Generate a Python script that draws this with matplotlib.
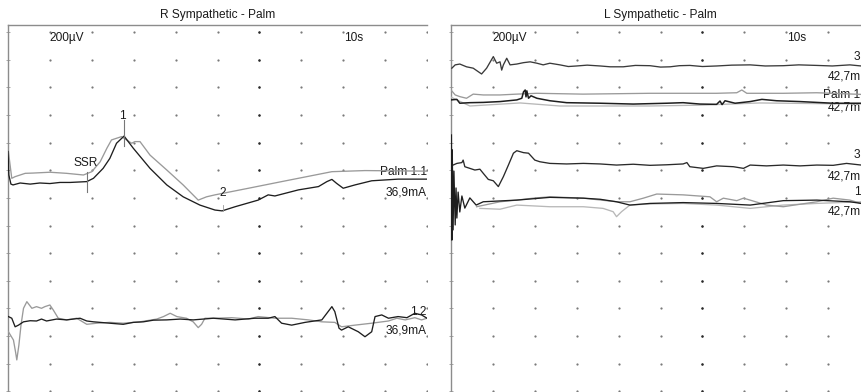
import numpy as np
import matplotlib.pyplot as plt

plt.rcParams['font.family'] = ['Liberation Sans', 'DejaVu Sans']

# time in s (1 div = 1 s, 10 s sweep), amplitude as vertical position in divisions (200 uV/div, downward)
# ---- R Sympathetic - Palm ----
r11_black_t = [0.0, 0.02, 0.07, 0.12, 0.29, 0.53, 0.76, 1.00, 1.24, 1.48, 1.88, 2.04, 2.27, 2.43, 2.59,
               2.77, 2.99, 3.39, 3.79, 4.18, 4.58, 4.94, 5.11, 5.42, 5.97, 6.21, 6.37, 6.93, 7.41, 7.61,
               7.73, 7.84, 8.00, 8.28, 8.68, 9.31, 10.0]
r11_black_y = [4.32, 5.17, 5.50, 5.53, 5.46, 5.50, 5.46, 5.48, 5.44, 5.44, 5.41, 5.29, 4.93, 4.57, 4.02,
               3.76, 4.20, 4.93, 5.53, 5.96, 6.26, 6.44, 6.47, 6.32, 6.08, 5.89, 5.93, 5.71, 5.59, 5.41,
               5.33, 5.47, 5.65, 5.53, 5.38, 5.32, 5.32]
r11_gray_t = [0.01, 0.09, 0.17, 0.29, 0.41, 0.60, 1.00, 1.40, 1.80, 2.00, 2.20, 2.36, 2.47, 2.59, 2.71,
              2.83, 2.95, 3.03, 3.15, 3.39, 3.79, 4.18, 4.54, 4.74, 4.94, 5.74, 6.53, 7.33, 7.73, 8.52, 10.0]
r11_gray_y = [4.33, 5.29, 5.23, 5.17, 5.11, 5.10, 5.07, 5.11, 5.17, 5.05, 4.69, 4.20, 3.90, 3.84, 3.78,
              3.90, 4.02, 3.96, 3.96, 4.45, 4.99, 5.53, 6.08, 5.96, 5.89, 5.65, 5.41, 5.17, 5.05, 5.01, 5.03]

r12_black_t = [0.01, 0.09, 0.17, 0.25, 0.37, 0.53, 0.68, 0.80, 0.92, 1.16, 1.40, 1.72, 1.88, 2.04, 2.20,
               2.43, 2.75, 2.99, 3.23, 3.47, 3.79, 4.11, 4.42, 4.66, 4.90, 5.42, 5.89, 6.21, 6.37, 6.53,
               6.77, 7.09, 7.49, 7.61, 7.73, 7.80, 7.90, 7.96, 8.12, 8.36, 8.52, 8.68, 8.76, 8.92, 9.08,
               9.31, 9.52, 9.71, 9.87, 10.0]
r12_black_y = [10.30, 10.36, 10.67, 10.61, 10.49, 10.45, 10.46, 10.39, 10.46, 10.39, 10.42, 10.36, 10.46,
               10.49, 10.51, 10.54, 10.58, 10.51, 10.49, 10.43, 10.42, 10.39, 10.42, 10.39, 10.36, 10.42,
               10.36, 10.36, 10.30, 10.54, 10.61, 10.51, 10.42, 10.18, 9.94, 10.12, 10.72, 10.79, 10.67,
               10.85, 11.03, 10.85, 10.30, 10.24, 10.36, 10.30, 10.34, 10.18, 10.24, 10.36]
r12_gray_t = [0.01, 0.13, 0.18, 0.21, 0.26, 0.31, 0.37, 0.45, 0.57, 0.68, 0.80, 0.88, 1.00, 1.08, 1.20,
              1.40, 1.64, 1.88, 2.12, 2.43, 2.75, 3.15, 3.55, 3.71, 3.87, 4.03, 4.26, 4.42, 4.54, 4.62,
              4.70, 4.94, 5.34, 5.74, 5.97, 6.37, 6.77, 7.17, 7.49, 7.80, 7.96, 8.28, 8.68, 9.08, 9.28,
              9.48, 9.71, 9.87, 10.0]
r12_gray_y = [10.85, 11.15, 11.58, 11.87, 11.33, 10.61, 10.00, 9.76, 10.00, 9.94, 10.00, 9.94, 9.88,
              10.06, 10.36, 10.42, 10.36, 10.58, 10.54, 10.51, 10.54, 10.49, 10.39, 10.30, 10.18, 10.30,
              10.36, 10.49, 10.70, 10.58, 10.36, 10.36, 10.34, 10.39, 10.30, 10.36, 10.36, 10.42, 10.49,
              10.51, 10.67, 10.61, 10.54, 10.46, 10.36, 10.42, 10.34, 10.42, 10.36]

# ---- L Sympathetic - Palm ----
l3a_t = [0.02, 0.10, 0.21, 0.37, 0.53, 0.73, 0.85, 1.01, 1.09, 1.17, 1.21, 1.25, 1.33, 1.41, 1.57, 1.73,
         1.89, 2.05, 2.20, 2.36, 2.60, 2.80, 3.00, 3.25, 3.56, 3.80, 4.11, 4.40, 4.75, 5.00, 5.23, 5.45,
         5.70, 6.00, 6.34, 6.70, 7.14, 7.50, 7.93, 8.30, 8.73, 9.10, 9.52, 9.79]
l3a_y = [1.30, 1.18, 1.15, 1.25, 1.30, 1.51, 1.30, 0.88, 1.12, 1.07, 1.37, 1.18, 0.94, 1.18, 1.15, 1.10,
         1.07, 1.12, 1.18, 1.12, 1.18, 1.24, 1.22, 1.19, 1.22, 1.25, 1.25, 1.20, 1.21, 1.26, 1.25, 1.21,
         1.20, 1.24, 1.22, 1.19, 1.18, 1.22, 1.21, 1.18, 1.20, 1.22, 1.18, 1.22]
l1a_gray_t = [0.0, 0.10, 0.21, 0.37, 0.53, 0.77, 1.17, 1.57, 2.05, 3.15, 4.75, 6.34, 6.82, 6.94, 7.06,
              7.93, 8.73, 9.79]
l1a_gray_y = [2.09, 2.27, 2.33, 2.39, 2.24, 2.27, 2.27, 2.24, 2.21, 2.24, 2.21, 2.21, 2.19, 2.09, 2.21,
              2.21, 2.19, 2.25]
l1a_black_t = [0.0, 0.14, 0.21, 0.45, 0.77, 1.17, 1.57, 1.69, 1.73, 1.77, 1.79, 1.81, 1.85, 1.91, 2.05,
               2.36, 2.76, 3.56, 4.35, 5.15, 5.54, 5.94, 6.34, 6.42, 6.47, 6.54, 6.78, 7.14, 7.42, 7.77,
               8.33, 9.12, 9.79]
l1a_black_y = [2.45, 2.43, 2.57, 2.55, 2.54, 2.51, 2.45, 2.39, 2.16, 2.09, 2.34, 2.12, 2.39, 2.30, 2.39,
               2.48, 2.55, 2.57, 2.60, 2.57, 2.55, 2.60, 2.61, 2.49, 2.62, 2.48, 2.57, 2.51, 2.43, 2.48,
               2.51, 2.57, 2.57]
l1a_light_t = [0.0, 0.45, 1.65, 2.60, 4.75, 5.94, 7.37, 9.79]
l1a_light_y = [2.35, 2.67, 2.56, 2.67, 2.67, 2.64, 2.56, 2.60]

l3b_t = [0.05, 0.14, 0.26, 0.29, 0.33, 0.45, 0.57, 0.69, 0.77, 0.89, 1.01, 1.13, 1.25, 1.37, 1.49, 1.57,
         1.73, 1.85, 2.00, 2.12, 2.36, 2.76, 3.16, 3.56, 3.95, 4.35, 4.75, 5.15, 5.54, 5.63, 5.70, 6.02,
         6.34, 6.74, 6.98, 7.14, 7.53, 7.93, 8.33, 8.73, 9.12, 9.44, 9.79]
l3b_y = [4.81, 4.75, 4.72, 4.63, 4.87, 4.93, 4.99, 4.96, 5.11, 5.33, 5.38, 5.59, 5.23, 4.81, 4.38, 4.29,
         4.36, 4.38, 4.63, 4.69, 4.75, 4.77, 4.75, 4.77, 4.81, 4.78, 4.82, 4.80, 4.77, 4.72, 4.87, 4.93,
         4.84, 4.87, 4.93, 4.81, 4.84, 4.81, 4.84, 4.81, 4.82, 4.75, 4.81]
l1b_black_t = [0.01, 0.02, 0.03, 0.05, 0.07, 0.10, 0.12, 0.14, 0.17, 0.21, 0.26, 0.33, 0.45, 0.60, 0.77,
               1.57, 2.36, 3.16, 3.56, 3.95, 4.27, 4.75, 5.54, 6.34, 7.14, 7.93, 8.73, 9.52, 9.79]
l1b_black_y = [3.72, 7.53, 4.26, 7.16, 5.03, 6.98, 5.64, 6.73, 5.79, 6.51, 5.93, 6.37, 6.00, 6.26, 6.14,
               6.08, 5.98, 6.01, 6.05, 6.14, 6.26, 6.20, 6.17, 6.20, 6.26, 6.10, 6.08, 6.14, 6.20]
l1b_gray_t = [0.61, 1.17, 1.57, 1.96, 2.36, 3.16, 3.95, 4.27, 4.59, 4.91, 5.54, 6.18, 6.34, 6.50, 6.82,
              6.98, 7.14, 7.53, 7.93, 8.73, 9.12, 9.52, 9.79]
l1b_gray_y = [6.32, 6.14, 6.08, 6.01, 5.96, 6.01, 6.14, 6.14, 6.01, 5.86, 5.89, 5.96, 6.14, 6.01, 6.10,
              6.01, 6.08, 6.26, 6.32, 6.14, 6.01, 6.08, 6.20]
l1b_light_t = [0.69, 1.17, 1.57, 2.36, 3.16, 3.63, 3.87, 3.95, 4.07, 4.27, 4.75, 5.54, 6.34, 6.74, 7.14,
               7.53, 7.93, 8.73, 9.79]
l1b_light_y = [6.38, 6.41, 6.26, 6.32, 6.32, 6.38, 6.50, 6.68, 6.50, 6.26, 6.22, 6.20, 6.26, 6.32, 6.38,
               6.32, 6.26, 6.20, 6.14]

# channel labels as they show at the right edge (the right panel is cut off by the image)
right_label_y = [0.89, 1.61, 2.27, 2.74, 4.45, 5.23, 5.78, 6.50]
right_labels = ['3', '42,7m', 'Palm 1', '42,7m', '3', '42,7m', '1', '42,7m']

BLACK = '#1e1e1e'
GRAY = '#9a9a9a'
LIGHT = '#b8b8b8'
TXT = '#1a1a1a'
FS = 8.6

fig = plt.figure(figsize=(8.61, 3.92), dpi=100)
W, H = 861, 392
div_px = 41.9
ax_l = fig.add_axes([8 / W, 0, 10 * div_px / W, (H - 25) / H])
ax_r = fig.add_axes([451 / W, 0, (W - 451) / W, (H - 25) / H])

y_top = (25 - 32.3) / 27.6
y_bot = (392 - 32.3) / 27.6


def setup(ax, xmax, title):
    ax.set_xlim(0, xmax)
    ax.set_ylim(y_bot, y_top)
    for s in ['right', 'bottom']:
        ax.spines[s].set_visible(False)
    for s in ['left', 'top']:
        ax.spines[s].set_color('#8c8c8c')
        ax.spines[s].set_linewidth(1.0)
    ax.set_xticks([])
    ax.set_yticks(np.arange(0, 14))
    ax.tick_params(axis='y', direction='inout', length=3, width=0.6, color='#999999', labelleft=False)
    cols = np.arange(1, 11)
    rows = np.arange(0, 14)
    gx, gy = np.meshgrid(cols, rows)
    ax.scatter(gx.ravel(), gy.ravel(), s=2.6, color='#7a7a7a', linewidths=0, zorder=1)
    ax.scatter(np.full(rows.size, 6), rows, s=3.0, color='#2a2a2a', linewidths=0, zorder=1)
    ax.text(5, y_top - 0.14, title, ha='center', va='bottom', fontsize=FS, color=TXT, clip_on=False)
    ax.text(1, -0.02, '200µV', ha='left', va='top', fontsize=FS, color=TXT)
    ax.text(8.02, -0.02, '10s', ha='left', va='top', fontsize=FS, color=TXT)


setup(ax_l, 10, 'R Sympathetic - Palm')
setup(ax_r, (W - 451) / div_px, 'L Sympathetic - Palm')

lw = 0.95
# left panel traces
ax_l.plot(r11_gray_t, r11_gray_y, color=GRAY, lw=lw, zorder=3)
ax_l.plot(r11_black_t, r11_black_y, color=BLACK, lw=lw, zorder=4)
ax_l.plot(r12_gray_t, r12_gray_y, color=GRAY, lw=lw, zorder=3)
ax_l.plot(r12_black_t, r12_black_y, color=BLACK, lw=lw, zorder=4)

# markers
ax_l.plot([1.88, 1.88], [5.05, 5.78], color='#777777', lw=0.8, zorder=5)
ax_l.text(1.85, 4.75, 'SSR', ha='center', va='center', fontsize=FS, color=TXT, zorder=6)
ax_l.plot([2.77, 2.77], [3.18, 4.12], color='#777777', lw=0.8, zorder=5)
ax_l.text(2.74, 3.04, '1', ha='center', va='center', fontsize=FS, color=TXT, zorder=6)
ax_l.plot([5.12, 5.12], [6.26, 6.47], color='#999999', lw=0.6, zorder=5)
ax_l.text(5.12, 5.83, '2', ha='center', va='center', fontsize=FS, color=TXT, zorder=6)

ax_l.text(10, 5.05, 'Palm 1.1', ha='right', va='center', fontsize=FS, color=TXT, zorder=2)
ax_l.text(10, 5.82, '36,9mA', ha='right', va='center', fontsize=FS, color=TXT, zorder=2)
ax_l.text(10, 10.12, '1.2', ha='right', va='center', fontsize=FS, color=TXT, zorder=2)
ax_l.text(10, 10.82, '36,9mA', ha='right', va='center', fontsize=FS, color=TXT, zorder=2)

# right panel traces
ax_r.plot(l3a_t, l3a_y, color='#3a3a3a', lw=lw, zorder=4)
ax_r.plot(l1a_light_t, l1a_light_y, color=LIGHT, lw=lw, zorder=3)
ax_r.plot(l1a_gray_t, l1a_gray_y, color=GRAY, lw=lw, zorder=3)
ax_r.plot(l1a_black_t, l1a_black_y, color=BLACK, lw=1.1, zorder=4)
ax_r.plot(l3b_t, l3b_y, color='#2a2a2a', lw=lw, zorder=4)
ax_r.plot(l1b_light_t, l1b_light_y, color=LIGHT, lw=lw, zorder=3)
ax_r.plot(l1b_gray_t, l1b_gray_y, color=GRAY, lw=lw, zorder=3)
ax_r.plot(l1b_black_t, l1b_black_y, color=BLACK, lw=lw, zorder=4)

for y, s in zip(right_label_y, right_labels):
    ax_r.text(0.999, y, s, ha='right', va='center', fontsize=FS, color=TXT, zorder=2,
              transform=ax_r.get_yaxis_transform())

fig.savefig('out.png', dpi=100)
